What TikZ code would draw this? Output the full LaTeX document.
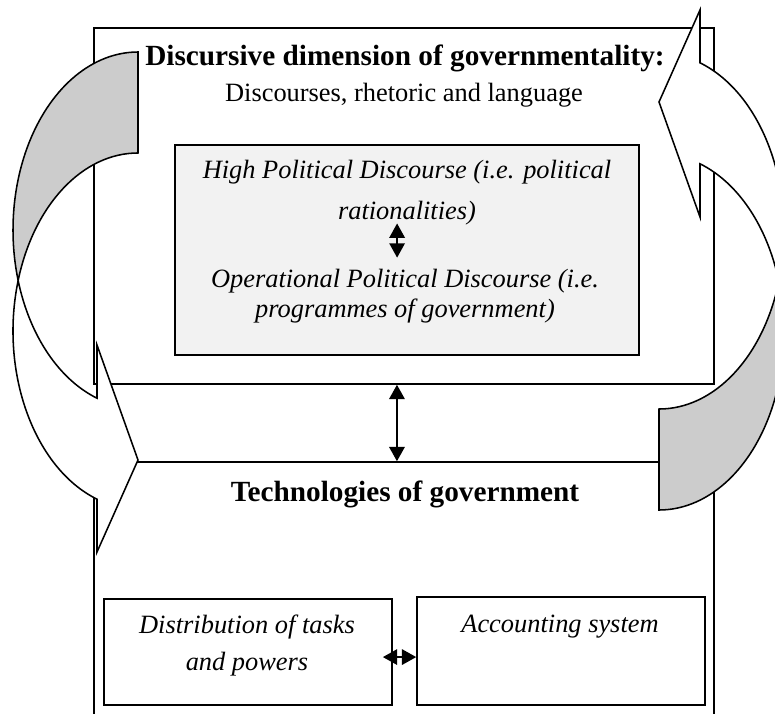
\documentclass[tikz,border=0pt]{standalone}
\usepackage{fontspec}
\setmainfont{Liberation Serif}
\usetikzlibrary{arrows.meta}
\newcommand{\px}{0.4545pt}

\begin{document}
\begin{tikzpicture}[x=\px, y=\px,
  frame/.style={draw, line width=0.7pt, inner sep=0pt},
  band/.style={draw, line width=0.7pt, line join=miter},
  twoway/.style={{Triangle[width=7pt,length=6.5pt]}-{Triangle[width=7pt,length=6.5pt]}, line width=0.9pt},
  bold/.style={font=\fontsize{13.3}{16}\selectfont\bfseries, inner sep=0pt, anchor=base},
  plain/.style={font=\fontsize{12}{13.6}\selectfont, inner sep=0pt, anchor=base},
  slanted/.style={font=\fontsize{12}{#1}\selectfont\itshape, inner sep=0pt, align=center}
]
 \useasboundingbox (0,0) rectangle (775,713);
 \clip (0,0) rectangle (775,713);
 \node[frame, minimum width=620*\px, minimum height=356*\px] (disc) at (404,507) {};
 \node[frame, minimum width=620*\px, minimum height=261*\px] (tech) at (404,120.5) {};
 \node[frame, fill=gray!10, minimum width=464*\px, minimum height=210*\px] (polbox) at (407,463) {};
 \node[frame, minimum width=288*\px, minimum height=106*\px] (dist) at (248,61) {};
 \node[frame, minimum width=288*\px, minimum height=108*\px] (acc) at (561,62) {};
 \foreach \turn in {0,180}
 {
  \begin{scope}[rotate around={\turn:(398.5,432)}]
   \draw[band, fill=gray!40] (138,661)
    arc[start angle=90, end angle=196.48, x radius=125, y radius=178]
    arc[start angle=163.52, end angle=90, x radius=125, y radius=178] -- cycle;
   \draw[band, fill=white] (97,314.8)
    arc[start angle=250.85, end angle=196.48, x radius=125, y radius=178]
    arc[start angle=163.52, end angle=250.85, x radius=125, y radius=178]
    -- (97,161) -- (138,253) -- (97,368) -- cycle;
  \end{scope}
 }
 \node[bold] (disctitle) at (405,648) {Discursive dimension of governmentality:};
 \node[plain] (discsub) at (404,611) {Discourses, rhetoric and language};
 \node[slanted=18.6] (hpd) at (407,520) {High Political Discourse (i.e. political\\rationalities)};
 \node[slanted=13.6] (opd) at (405,417) {Operational Political Discourse (i.e.\\programmes of government)};
 \node[bold] (techtitle) at (405,212) {Technologies of government};
 \node[slanted=16.8] (disttext) at (247,67.5) {Distribution of tasks\\and powers};
 \node[slanted=13.6, anchor=base] (acctext) at (560,81) {Accounting system};
 \draw[twoway, line width=0.7pt, shorten <=-1.1pt, shorten >=5pt]
  ([xshift=-4.5pt]hpd.south) -- ([xshift=-4.5pt]hpd.south |- opd.north);
 \draw[twoway] ([xshift=-3.2pt]disc.south) -- ([xshift=-3.2pt]disc.south |- tech.north);
 \draw[twoway, shorten <=-4.5pt] ([yshift=-2.3pt]dist.east) -- ([yshift=-2.3pt]dist.east -| acc.west);
\end{tikzpicture}
\end{document}
